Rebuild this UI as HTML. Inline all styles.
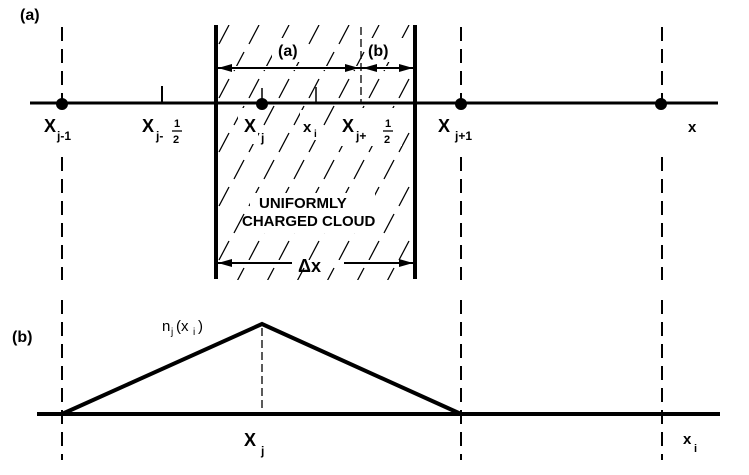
<!DOCTYPE html>
<html><head><style>body{margin:0;background:#fff}svg{display:block}</style></head><body>
<svg width="749" height="475" viewBox="0 0 749 475" xmlns="http://www.w3.org/2000/svg" font-family="Liberation Sans, sans-serif" font-weight="bold">
<defs>
<clipPath id="c"><rect x="218" y="25" width="195" height="255"/></clipPath>
<pattern id="h" patternUnits="userSpaceOnUse" width="30" height="54" patternTransform="translate(217,20)">
<line x1="2" y1="24" x2="12" y2="5" stroke="#000" stroke-width="1.3"/>
<line x1="17" y1="51" x2="27" y2="32" stroke="#000" stroke-width="1.3"/>
</pattern>
</defs>
<g clip-path="url(#c)">
<rect x="217" y="25" width="197" height="255" fill="url(#h)"/>
<rect x="272" y="38" width="36" height="24" fill="#fff"/>
<rect x="365" y="38" width="40" height="24" fill="#fff"/>
<rect x="225" y="66" width="185" height="4" fill="#fff"/>
<rect x="238" y="108" width="20" height="36" fill="#fff"/>
<rect x="300" y="110" width="22" height="30" fill="#fff"/>
<rect x="340" y="108" width="62" height="38" fill="#fff"/>
<rect x="250" y="193" width="125" height="40" fill="#fff"/>
<rect x="222" y="260" width="188" height="6" fill="#fff"/>
</g>
<g stroke="#000" stroke-width="2" stroke-dasharray="14,8">
<line x1="62" y1="27" x2="62" y2="100"/><line x1="62" y1="157" x2="62" y2="280"/>
<line x1="461" y1="27" x2="461" y2="100"/><line x1="461" y1="157" x2="461" y2="280"/>
<line x1="662" y1="27" x2="662" y2="100"/><line x1="662" y1="157" x2="662" y2="280"/>
<line x1="361" y1="27" x2="361" y2="103" stroke-width="1.3" stroke-dasharray="8,4"/>
<line x1="62" y1="300" x2="62" y2="460"/><line x1="461" y1="300" x2="461" y2="460"/>
<line x1="662" y1="300" x2="662" y2="460"/>
<line x1="262" y1="328" x2="262" y2="412" stroke-width="1.3" stroke-dasharray="8,4"/>
</g>
<g stroke="#000">
<line x1="30" y1="103" x2="718" y2="103" stroke-width="3"/>
<line x1="216" y1="25" x2="216" y2="279" stroke-width="4"/>
<line x1="415" y1="25" x2="415" y2="279" stroke-width="4"/>
<line x1="162" y1="86" x2="162" y2="103" stroke-width="2"/>
<line x1="316" y1="87" x2="316" y2="103" stroke-width="1.5"/>
<line x1="262" y1="88" x2="262" y2="103" stroke-width="1.5"/>
<line x1="218" y1="68" x2="413" y2="68" stroke-width="2"/>
<line x1="218" y1="263" x2="292" y2="263" stroke-width="2"/>
<line x1="344" y1="263" x2="413" y2="263" stroke-width="2"/>
<line x1="37" y1="414" x2="720" y2="414" stroke-width="4"/>
<polyline points="62,414 262,324 461,414" fill="none" stroke-width="4"/>
</g>
<g fill="#000">
<circle cx="62" cy="104" r="6"/><circle cx="262" cy="104" r="6"/><circle cx="461" cy="104" r="6"/><circle cx="661" cy="104" r="6"/>
<polygon points="218,68 232,64 232,72"/><polygon points="359,68 345,64 345,72"/>
<polygon points="363,68 377,64 377,72"/><polygon points="413,68 399,64 399,72"/>
<polygon points="218,263 232,259 232,267"/><polygon points="413,263 399,259 399,267"/>
</g>
<g font-size="18" fill="#000">
<text x="20" y="20" font-size="16">(a)</text>
<text x="278" y="56" font-size="16">(a)</text>
<text x="368" y="56" font-size="16">(b)</text>
<text x="44" y="132">X</text><text x="57" y="140" font-size="12">j-1</text>
<text x="142" y="132">X</text><text x="156" y="140" font-size="12">j-</text>
<text x="174" y="127" font-size="11">1</text><line x1="172" y1="131" x2="182" y2="131" stroke="#000" stroke-width="1.3"/><text x="173" y="143" font-size="11">2</text>
<text x="244" y="132">X</text><text x="261" y="142" font-size="12">j</text>
<text x="303" y="132" font-size="15">x</text><text x="314" y="137" font-size="10">i</text>
<text x="342" y="132">X</text><text x="356" y="140" font-size="12">j+</text>
<text x="385" y="127" font-size="11">1</text><line x1="383" y1="131" x2="393" y2="131" stroke="#000" stroke-width="1.3"/><text x="384" y="143" font-size="11">2</text>
<text x="438" y="132">X</text><text x="455" y="140" font-size="12">j+1</text>
<text x="688" y="132" font-size="15">x</text>
<text x="259" y="208" font-size="15">UNIFORMLY</text>
<text x="242" y="226" font-size="15">CHARGED CLOUD</text>
<text x="298" y="272">Δx</text>
<text x="12" y="342" font-size="16">(b)</text>
<text x="162" y="331" font-size="15" font-weight="normal">n</text><text x="171" y="335" font-size="10" font-weight="normal">j</text><text x="176" y="331" font-size="15" font-weight="normal">(x</text><text x="193" y="335" font-size="10" font-weight="normal">i</text><text x="198" y="331" font-size="15" font-weight="normal">)</text>
<text x="244" y="446">X</text><text x="261" y="455" font-size="12">j</text>
<text x="683" y="444" font-size="15">x</text><text x="694" y="452" font-size="11">i</text>
</g>
</svg>
</body></html>
